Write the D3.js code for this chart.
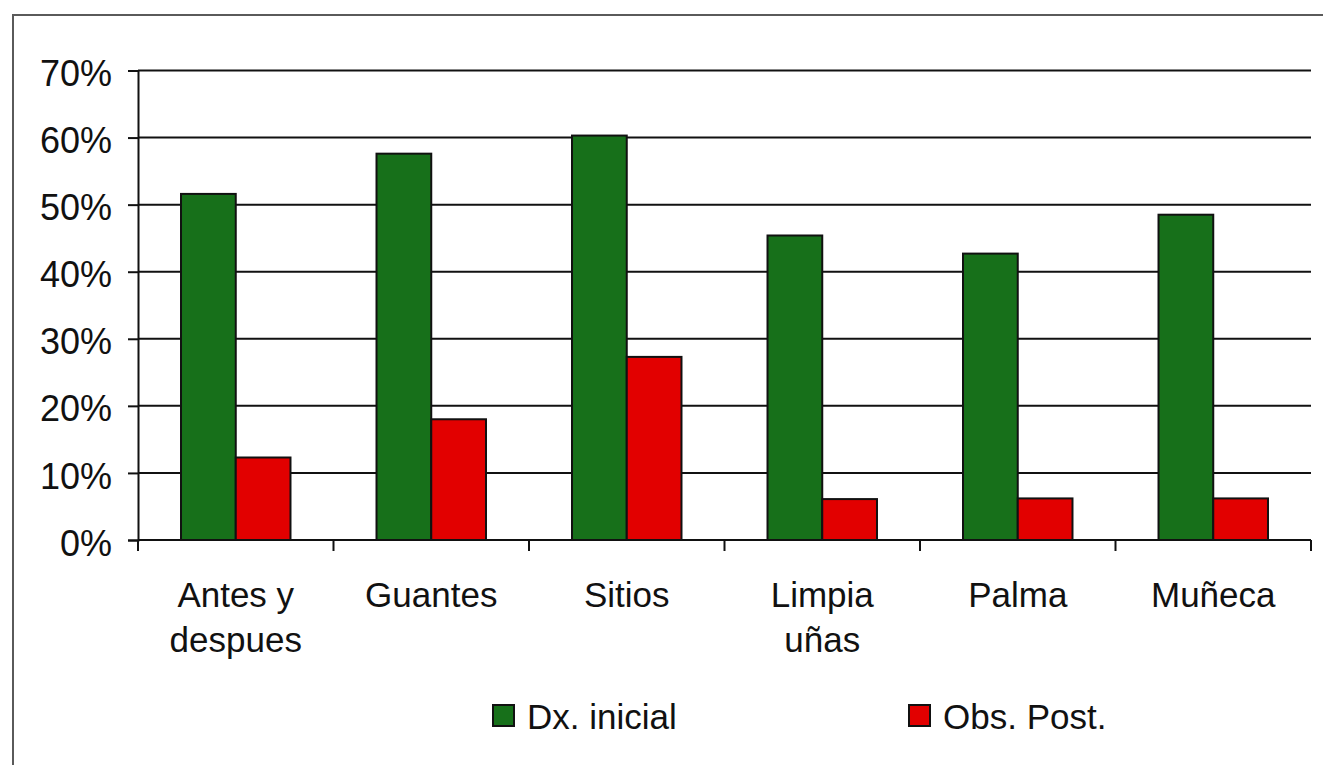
<!DOCTYPE html>
<html>
<head>
<meta charset="utf-8">
<script src="https://cdn.jsdelivr.net/npm/d3@7/dist/d3.min.js"></script>
<style>
  html, body { margin: 0; padding: 0; background: #fff; }
  svg { display: block; }
  text { font-family: "Liberation Sans", Arial, sans-serif; fill: #111; }
</style>
</head>
<body>
<svg id="chart" width="1323" height="765"></svg>
<script>
// Categories (x axis), each label split into lines
const categories = ["Antes y despues", "Guantes", "Sitios", "Limpia uñas", "Palma", "Muñeca"];
const categoryLines = [["Antes y", "despues"], ["Guantes"], ["Sitios"], ["Limpia", "uñas"], ["Palma"], ["Muñeca"]];

// Series values (proportions)
const seriesNames = ["Dx. inicial", "Obs. Post."];
const dxInicial = [0.516, 0.576, 0.603, 0.454, 0.427, 0.485];
const obsPost   = [0.123, 0.180, 0.273, 0.061, 0.062, 0.062];
const seriesColors = ["#17701a", "#e20000"];

// Y axis ticks
const yTicks = [0, 0.1, 0.2, 0.3, 0.4, 0.5, 0.6, 0.7];

const svg = d3.select("#chart");

// Outer frame
svg.append("rect")
  .attr("x", 13).attr("y", 15)
  .attr("width", 1400).attr("height", 800)
  .attr("fill", "none")
  .attr("stroke", "#5a5a5a")
  .attr("stroke-width", 2);

const plot = { left: 138, right: 1311, top: 70.5, bottom: 540 };

const x0 = d3.scaleBand()
  .domain(categories)
  .range([plot.left, plot.right])
  .paddingInner(0.44)
  .paddingOuter(0.22);

const x1 = d3.scaleBand()
  .domain(seriesNames)
  .range([0, x0.bandwidth()])
  .padding(0);

const y = d3.scaleLinear()
  .domain([0, 0.7])
  .range([plot.bottom, plot.top]);

// Horizontal gridlines
svg.append("g")
  .selectAll("line")
  .data(yTicks.filter(d => d > 0))
  .join("line")
  .attr("x1", plot.left).attr("x2", plot.right)
  .attr("y1", d => y(d)).attr("y2", d => y(d))
  .attr("stroke", "#111")
  .attr("stroke-width", 2);

// Bars
const rows = categories.map((c, i) => ({ cat: c, values: [dxInicial[i], obsPost[i]] }));
const groups = svg.append("g")
  .selectAll("g")
  .data(rows)
  .join("g")
  .attr("transform", d => `translate(${x0(d.cat)},0)`);

groups.selectAll("rect")
  .data(d => d.values.map((v, k) => ({ key: seriesNames[k], value: v, color: seriesColors[k] })))
  .join("rect")
  .attr("x", d => x1(d.key))
  .attr("y", d => y(d.value))
  .attr("width", x1.bandwidth())
  .attr("height", d => y(0) - y(d.value))
  .attr("fill", d => d.color)
  .attr("stroke", "#111")
  .attr("stroke-width", 2);

// Y axis
const yAxis = svg.append("g")
  .attr("transform", `translate(${plot.left},0)`)
  .call(d3.axisLeft(y).tickValues(yTicks).tickFormat(d3.format(".0%")).tickSize(10).tickPadding(16));
yAxis.select(".domain").attr("stroke", "#111").attr("stroke-width", 2);
yAxis.selectAll(".tick line").attr("stroke", "#111").attr("stroke-width", 2);
yAxis.selectAll(".tick text")
  .attr("font-size", 36)
  .attr("font-family", "'Liberation Sans', Arial, sans-serif")
  .attr("fill", "#111")
  .attr("dy", "0.42em");

// X axis with ticks at category boundaries
const step = x0.step();
const boundaries = d3.range(categories.length + 1).map(i => plot.left + i * step);
svg.append("line")
  .attr("x1", plot.left).attr("x2", plot.right)
  .attr("y1", y(0)).attr("y2", y(0))
  .attr("stroke", "#111").attr("stroke-width", 2);
svg.append("g")
  .selectAll("line")
  .data(boundaries)
  .join("line")
  .attr("x1", d => d).attr("x2", d => d)
  .attr("y1", y(0)).attr("y2", y(0) + 11)
  .attr("stroke", "#111").attr("stroke-width", 2);

// Category labels
const labels = svg.append("g")
  .selectAll("text")
  .data(categories)
  .join("text")
  .attr("x", d => x0(d) + x0.bandwidth() / 2)
  .attr("y", 607)
  .attr("text-anchor", "middle")
  .attr("font-size", 35);
labels.selectAll("tspan")
  .data((d, i) => categoryLines[i])
  .join("tspan")
  .attr("x", function () { return d3.select(this.parentNode).attr("x"); })
  .attr("dy", (d, j) => j === 0 ? 0 : 45)
  .text(d => d);

// Legend
const legendX = [493, 909];
const legend = svg.append("g")
  .selectAll("g")
  .data(seriesNames)
  .join("g")
  .attr("transform", (d, i) => `translate(${legendX[i]},705)`);
legend.append("rect")
  .attr("width", 21).attr("height", 21)
  .attr("fill", (d, i) => seriesColors[i])
  .attr("stroke", "#111").attr("stroke-width", 2);
legend.append("text")
  .attr("x", 34).attr("y", 24)
  .attr("font-size", 35)
  .text(d => d);
</script>
</body>
</html>
